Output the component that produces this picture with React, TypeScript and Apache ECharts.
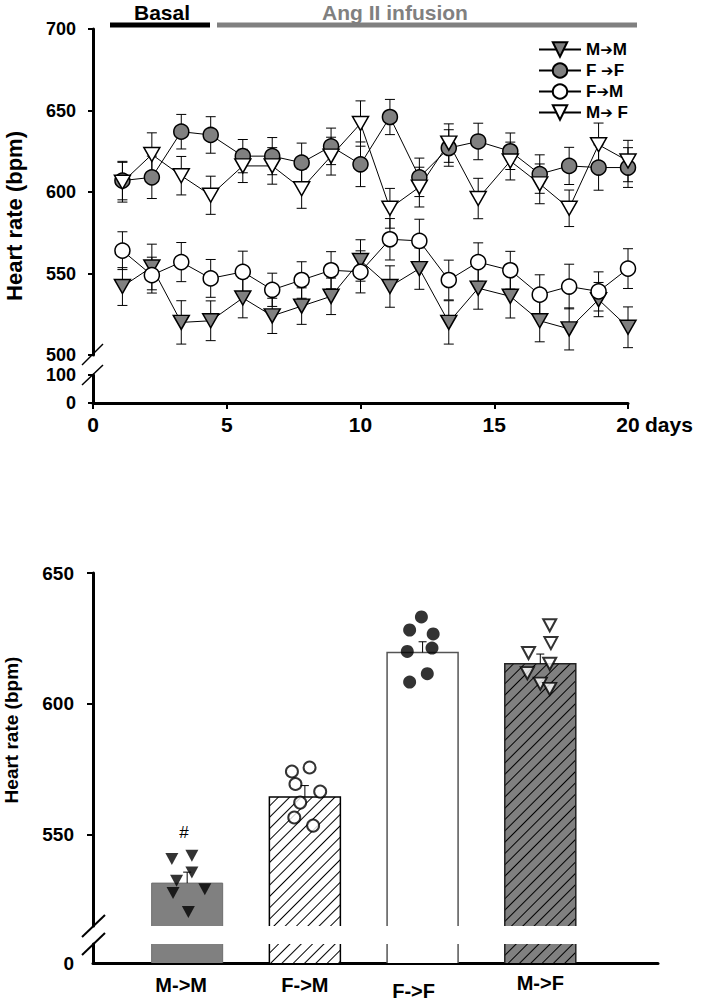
import React, { useEffect, useRef } from 'react';
import * as echarts from 'echarts';

// ---------- Top panel: time course ----------
const days = [1.1, 2.2, 3.3, 4.4, 5.6, 6.7, 7.8, 8.9, 10, 11.1, 12.2, 13.3, 14.4, 15.6, 16.7, 17.8, 18.9, 20];

const mmMean = [542, 554, 520, 521, 535, 524, 530, 536, 558, 542, 553, 520, 541, 536, 521, 516, 534, 517];
const mmErr = [11.6, 14, 13.3, 12.2, 12.2, 10.8, 11.2, 11.2, 12.7, 12.7, 12.7, 13.3, 12.9, 13.3, 12.9, 12.9, 10.5, 12.5];
const ffMean = [607, 609, 637, 635, 622, 622, 618, 628, 617, 646, 609, 627, 631, 625, 611, 616, 615, 615];
const ffErr = [11.8, 13, 10.6, 11.2, 10.2, 11.4, 12, 11.2, 13.7, 10.8, 11.8, 11.2, 11.2, 11.2, 11.8, 11.4, 13.9, 12.2];
const fmMean = [564, 549, 557, 547, 551, 540, 546, 552, 551, 571, 570, 546, 557, 552, 537, 542, 539, 553];
const fmErr = [11.6, 11, 12, 11.6, 12.7, 10.2, 11.2, 11.4, 12.9, 12.7, 13.3, 12.2, 11.8, 11.6, 12.2, 13.7, 12, 12.2];
const mfMean = [606, 623, 610, 598, 616, 616, 602, 622, 642, 590, 603, 630, 596, 619, 605, 590, 629, 619];
const mfErr = [12.2, 13.3, 11.8, 11.7, 10.2, 11.2, 12, 11.6, 13.9, 12.2, 12.2, 11.8, 12.4, 11.6, 12.2, 11.2, 13.3, 12.7];

const legendNames = ['M→M', 'F →F', 'F→M', 'M→ F'];

// ---------- Bottom panel: group means ----------
const groups = ['M->M', 'F->M', 'F->F', 'M->F'];
const groupX = [1, 2, 3, 4];
const groupMean = [531.4, 564.3, 619.6, 615.3];
const groupSem = [4.2, 4.4, 4.1, 3.7];

const mmDotX = [0.87, 1.04, 1.04, 0.91, 0.88, 1.15, 1.01];
const mmDotY = [540.6, 541.9, 535.5, 532.3, 527.6, 529.1, 520.4];
const fmDotX = [1.89, 2.04, 1.92, 2.13, 1.96, 1.91, 2.07];
const fmDotY = [574.1, 575.6, 569.3, 566.4, 562.2, 556.5, 553.4];
const ffDotX = [2.99, 2.89, 3.09, 2.87, 3.08, 3.04, 2.89];
const ffDotY = [633.2, 628.2, 626.7, 620.0, 621.3, 611.5, 608.3];
const mfDotX = [4.08, 4.09, 3.9, 4.08, 3.89, 4.0, 4.08];
const mfDotY = [630.0, 623.2, 619.4, 615.3, 611.7, 607.7, 605.7];

const FONT = '"Liberation Sans", Arial, Helvetica, sans-serif';
const BAR_W = 71;

const lbl = (size: number, weight: string = 'bold') => ({
  color: '#000',
  fontFamily: FONT,
  fontWeight: weight,
  fontSize: size,
});

const hatch = {
  symbol: 'rect',
  symbolSize: 1,
  dashArrayX: [1, 0],
  dashArrayY: [1, 7],
  rotation: -Math.PI / 4,
  color: '#000',
};

const barStyles = [
  { color: '#808080' },
  { color: '#ffffff', decal: hatch },
  { color: '#ffffff' },
  { color: '#808080', decal: hatch },
];
const outlineStyles = [
  { stroke: '#6e6e6e', lineWidth: 1 },
  { stroke: '#000', lineWidth: 1.5 },
  { stroke: '#555', lineWidth: 1.5 },
  { stroke: '#222', lineWidth: 1.5 },
];

function errRender(params: any, api: any) {
  const x = api.value(0);
  const lo = api.coord([x, api.value(1)]);
  const hi = api.coord([x, api.value(2)]);
  const hw = 5;
  const st = { stroke: '#000', lineWidth: 1 };
  return {
    type: 'group',
    children: [
      { type: 'line', shape: { x1: hi[0], y1: hi[1], x2: lo[0], y2: lo[1] }, style: st },
      { type: 'line', shape: { x1: hi[0] - hw, y1: hi[1], x2: hi[0] + hw, y2: hi[1] }, style: st },
      { type: 'line', shape: { x1: lo[0] - hw, y1: lo[1], x2: lo[0] + hw, y2: lo[1] }, style: st },
    ],
  };
}

function semRender(params: any, api: any) {
  const x = api.value(0);
  const lo = api.coord([x, api.value(1)]);
  const hi = api.coord([x, api.value(2)]);
  const hw = 4;
  const st = { stroke: '#000', lineWidth: 1 };
  return {
    type: 'group',
    children: [
      { type: 'line', shape: { x1: hi[0], y1: hi[1], x2: lo[0], y2: lo[1] }, style: st },
      { type: 'line', shape: { x1: hi[0] - hw, y1: hi[1], x2: hi[0] + hw, y2: hi[1] }, style: st },
    ],
  };
}

function outlineRender(params: any, api: any) {
  const idx = params.dataIndex;
  const cs = params.coordSys;
  const c = api.coord([api.value(0), api.value(1)]);
  const bottom = cs.y + cs.height;
  const hw = BAR_W / 2;
  const st = { ...outlineStyles[idx], fill: 'none' };
  if (c[1] < cs.y) {
    return {
      type: 'group',
      children: [
        { type: 'line', shape: { x1: c[0] - hw, y1: cs.y, x2: c[0] - hw, y2: bottom }, style: st },
        { type: 'line', shape: { x1: c[0] + hw, y1: cs.y, x2: c[0] + hw, y2: bottom }, style: st },
      ],
    };
  }
  return {
    type: 'polyline',
    shape: { points: [[c[0] - hw, bottom], [c[0] - hw, c[1]], [c[0] + hw, c[1]], [c[0] + hw, bottom]] },
    style: st,
  };
}

const axisLineStyle = { show: true, lineStyle: { color: '#000', width: 3 } };
const tickStyle = (len: number) => ({ show: true, length: len, lineStyle: { color: '#000', width: 2 } });

function lineSeries(name: string, means: number[], symbol: string, fill: string) {
  const tri = symbol === 'triangle';
  return {
    name,
    type: 'line',
    xAxisIndex: 0,
    yAxisIndex: 0,
    data: days.map((d, i) => [d, means[i]]),
    symbol,
    symbolSize: tri ? [16, 14] : 15,
    symbolRotate: tri ? 180 : 0,
    showAllSymbol: true,
    lineStyle: { color: '#000', width: 1 },
    itemStyle: { color: fill, borderColor: '#000', borderWidth: 1.5 },
    z: 3,
    silent: true,
  };
}

function errSeries(means: number[], errs: number[]) {
  return {
    type: 'custom',
    xAxisIndex: 0,
    yAxisIndex: 0,
    z: 1,
    silent: true,
    data: days.map((d, i) => [d, means[i] - errs[i], means[i] + errs[i]]),
    encode: { x: 0, y: [1, 2] },
    renderItem: errRender,
  };
}

function dotSeries(xs: number[], ys: number[], symbol: string, style: any, size: any) {
  return {
    type: 'scatter',
    xAxisIndex: 2,
    yAxisIndex: 2,
    data: xs.map((x, i) => [x, ys[i]]),
    symbol,
    symbolRotate: symbol === 'triangle' ? 180 : 0,
    symbolSize: size,
    itemStyle: style,
    z: 6,
    silent: true,
  };
}

function buildOption() {
  const barData = groupX.map((x, i) => ({ value: [x, groupMean[i]], itemStyle: barStyles[i] }));
  const outlineData = groupX.map((x, i) => [x, groupMean[i]]);
  const labelPad: any = {
    g0: { ...lbl(20), padding: [2, 12, 0, 0] },
    g1: { ...lbl(20), padding: [2, 0, 0, 0] },
    g2: { ...lbl(20), padding: [8, 18, 0, 0] },
    g3: { ...lbl(20), padding: [0, 0, 0, 0] },
  };

  return {
    animation: false,
    backgroundColor: '#ffffff',
    grid: [
      { left: 93, top: 29, width: 535, height: 326 },
      { left: 93, top: 375, width: 535, height: 28 },
      { left: 93, top: 573, width: 565, height: 353 },
      { left: 93, top: 944, width: 565, height: 22 },
    ],
    xAxis: [
      { gridIndex: 0, type: 'value', min: 0, max: 20, show: false },
      {
        gridIndex: 1,
        type: 'value',
        min: 0,
        max: 20,
        interval: 5,
        axisLine: axisLineStyle,
        axisTick: tickStyle(6),
        axisLabel: { ...lbl(21), margin: 11 },
        splitLine: { show: false },
        name: 'days',
        nameLocation: 'end',
        nameGap: 17,
        nameTextStyle: { ...lbl(21), verticalAlign: 'top', padding: [11, 0, 0, 0] },
      },
      { gridIndex: 2, type: 'value', min: 0.2, max: 5, show: false },
      {
        gridIndex: 3,
        type: 'value',
        min: 0.2,
        max: 5,
        axisLine: axisLineStyle,
        axisTick: { show: false },
        splitLine: { show: false },
        axisLabel: {
          ...lbl(20),
          margin: 10,
          customValues: groupX,
          formatter: (v: number) => {
            const i = groupX.indexOf(Math.round(v));
            return i < 0 ? '' : `{g${i}|${groups[i]}}`;
          },
          rich: labelPad,
        },
      },
    ],
    yAxis: [
      {
        gridIndex: 0,
        type: 'value',
        min: 500,
        max: 700,
        interval: 50,
        axisLine: axisLineStyle,
        axisTick: tickStyle(5),
        axisLabel: { ...lbl(18), margin: 17 },
        splitLine: { show: false },
      },
      {
        gridIndex: 1,
        type: 'value',
        min: 0,
        max: 100,
        interval: 100,
        axisLine: axisLineStyle,
        axisTick: tickStyle(5),
        axisLabel: { ...lbl(18), margin: 17 },
        splitLine: { show: false },
      },
      {
        gridIndex: 2,
        type: 'value',
        min: 515,
        max: 650,
        axisLine: axisLineStyle,
        axisTick: { ...tickStyle(6), customValues: [550, 600, 650] },
        axisLabel: { ...lbl(19), margin: 19, customValues: [550, 600, 650] },
        splitLine: { show: false },
      },
      {
        gridIndex: 3,
        type: 'value',
        min: 0,
        max: 40,
        axisLine: axisLineStyle,
        axisTick: { show: false },
        axisLabel: { ...lbl(19), margin: 19, customValues: [0] },
        splitLine: { show: false },
      },
    ],
    legend: {
      data: legendNames,
      orient: 'vertical',
      left: 533,
      top: 36,
      itemWidth: 42,
      itemHeight: 18,
      itemGap: 4,
      selectedMode: false,
      formatter: (name: string) => name.replace('→', '{a|➔}'),
      textStyle: {
        ...lbl(17),
        rich: { a: { fontFamily: '"DejaVu Sans", sans-serif', fontWeight: 'bold', fontSize: 15, color: '#000' } },
      },
    },
    series: [
      errSeries(mmMean, mmErr),
      errSeries(ffMean, ffErr),
      errSeries(fmMean, fmErr),
      errSeries(mfMean, mfErr),
      lineSeries(legendNames[0], mmMean, 'triangle', '#808080'),
      lineSeries(legendNames[1], ffMean, 'circle', '#808080'),
      lineSeries(legendNames[2], fmMean, 'circle', '#ffffff'),
      lineSeries(legendNames[3], mfMean, 'triangle', '#ffffff'),
      { type: 'line', xAxisIndex: 1, yAxisIndex: 1, data: [], silent: true },
      // bottom panel bars (upper and lower segment)
      { type: 'bar', xAxisIndex: 2, yAxisIndex: 2, barWidth: BAR_W, data: barData, silent: true, z: 2 },
      { type: 'bar', xAxisIndex: 3, yAxisIndex: 3, barWidth: BAR_W, data: barData, silent: true, z: 2 },
      {
        type: 'custom', xAxisIndex: 2, yAxisIndex: 2, data: outlineData, renderItem: outlineRender,
        encode: { x: 0, y: 1 }, z: 3, silent: true,
      },
      {
        type: 'custom', xAxisIndex: 3, yAxisIndex: 3, data: outlineData, renderItem: outlineRender,
        encode: { x: 0, y: 1 }, z: 3, silent: true,
      },
      {
        type: 'custom', xAxisIndex: 2, yAxisIndex: 2,
        data: groupX.map((x, i) => [x, groupMean[i], groupMean[i] + groupSem[i]]),
        encode: { x: 0, y: [1, 2] },
        renderItem: semRender, z: 4, silent: true,
      },
      dotSeries(mmDotX, mmDotY, 'triangle', { color: '#000' }, [13, 12]),
      dotSeries(fmDotX, fmDotY, 'circle', { color: '#fff', borderColor: '#000', borderWidth: 2 }, 12),
      dotSeries(ffDotX, ffDotY, 'circle', { color: '#000' }, 13),
      dotSeries(mfDotX, mfDotY, 'triangle', { color: '#fff', borderColor: '#000', borderWidth: 2 }, [13, 12]),
    ],
    graphic: [
      { type: 'rect', shape: { x: 110, y: 22.5, width: 100, height: 5 }, style: { fill: '#000' } },
      { type: 'rect', shape: { x: 217, y: 22.5, width: 420, height: 5 }, style: { fill: '#808080' } },
      {
        type: 'text', x: 162, y: 12,
        style: { text: 'Basal', fill: '#000', font: `bold 21px ${FONT}`, align: 'center', verticalAlign: 'middle' },
      },
      {
        type: 'text', x: 395, y: 12,
        style: { text: 'Ang II infusion', fill: '#808080', font: `bold 21px ${FONT}`, align: 'center', verticalAlign: 'middle' },
      },
      {
        type: 'text', x: 14, y: 216, rotation: Math.PI / 2,
        style: { text: 'Heart rate (bpm)', fill: '#000', font: `bold 22px ${FONT}`, align: 'center', verticalAlign: 'middle' },
      },
      {
        type: 'text', x: 11, y: 730, rotation: Math.PI / 2,
        style: { text: 'Heart rate (bpm)', fill: '#000', font: `bold 19px ${FONT}`, align: 'center', verticalAlign: 'middle' },
      },
      {
        type: 'text', x: 184, y: 832,
        style: { text: '#', fill: '#000', font: `17px ${FONT}`, align: 'center', verticalAlign: 'middle' },
      },
      // axis break marks, top panel
      { type: 'line', shape: { x1: 82, y1: 365, x2: 103, y2: 344 }, style: { stroke: '#000', lineWidth: 1.5 } },
      { type: 'line', shape: { x1: 82, y1: 385, x2: 103, y2: 365 }, style: { stroke: '#000', lineWidth: 1.5 } },
      // axis break marks, bottom panel
      { type: 'line', shape: { x1: 82, y1: 937, x2: 105, y2: 915 }, style: { stroke: '#000', lineWidth: 2 } },
      { type: 'line', shape: { x1: 82, y1: 955, x2: 105, y2: 933 }, style: { stroke: '#000', lineWidth: 2 } },
    ],
  };
}

export default function App() {
  const ref = useRef<HTMLDivElement>(null);
  useEffect(() => {
    if (!ref.current) return;
    const chart = echarts.init(ref.current, null, { renderer: 'svg' });
    chart.setOption(buildOption() as any);
    return () => chart.dispose();
  }, []);
  return (
    <div
      ref={ref}
      style={{ position: 'absolute', left: 0, top: 0, width: 709, height: 1001, background: '#fff' }}
    />
  );
}
